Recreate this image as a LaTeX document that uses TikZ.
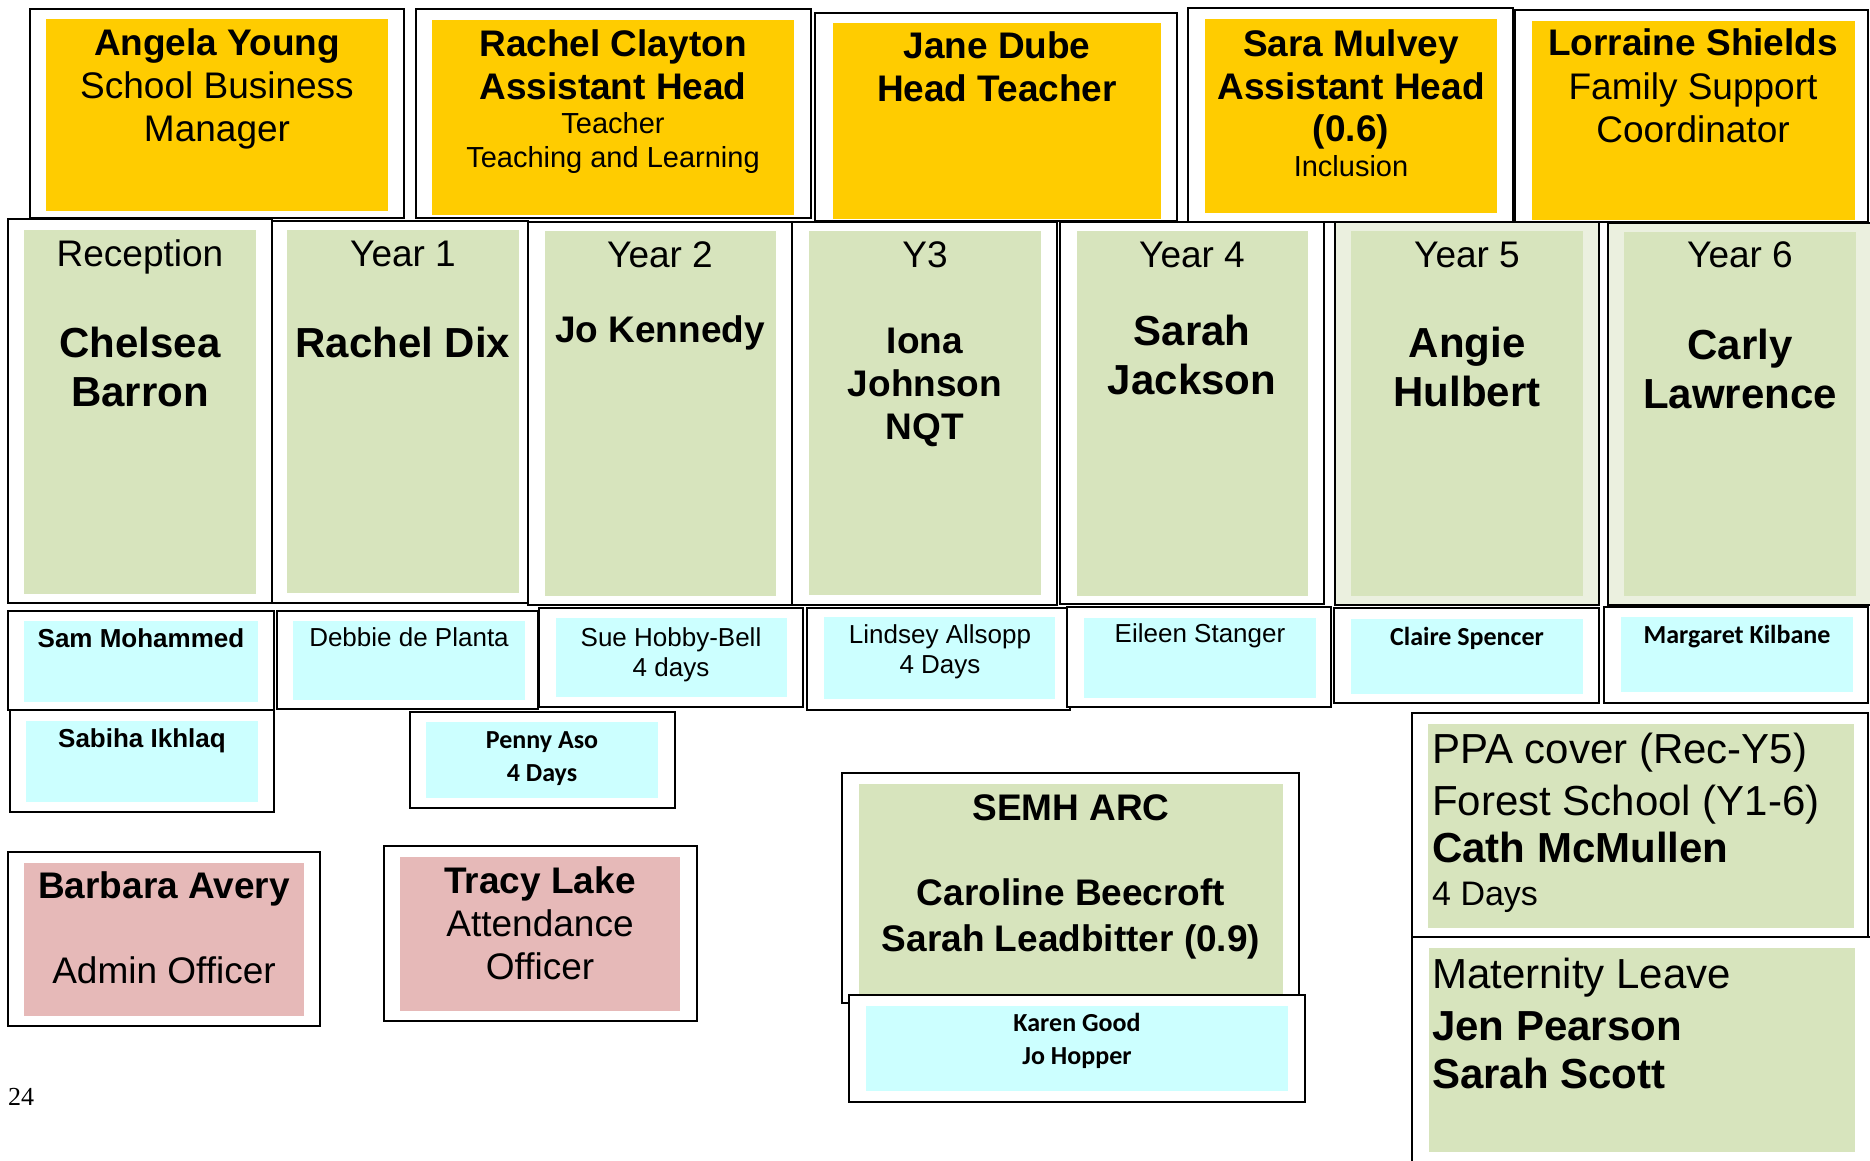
\documentclass[tikz,border=0pt]{standalone}
\usepackage{fontspec}
\setmainfont{Liberation Sans}
\newfontfamily\calibrif{Carlito}
\newfontfamily\timesf{Liberation Serif}
\definecolor{ylw}{HTML}{FFCC00}
\definecolor{grn}{HTML}{D7E4BD}
\definecolor{lgrn}{HTML}{EBF0DF}
\definecolor{cyn}{HTML}{CCFFFF}
\definecolor{pnk}{HTML}{E6B9B8}
\tikzset{
  outerbox/.style={draw=black, line width=2pt, fill=white},
  txt/.style={inner sep=0pt, anchor=base, text=black},
  ltxt/.style={inner sep=0pt, anchor=base west, text=black},
  nameB/.style={font=\fontsize{37}{43}\selectfont\bfseries},
  roleR/.style={font=\fontsize{37}{43}\selectfont},
  smallR/.style={font=\fontsize{29}{33}\selectfont},
  bigB/.style={font=\fontsize{42}{49}\selectfont\bfseries},
  bigR/.style={font=\fontsize{42}{49}\selectfont},
  midR/.style={font=\fontsize{34}{40}\selectfont},
  staffR/.style={font=\fontsize{26}{30}\selectfont},
  staffB/.style={font=\fontsize{26}{30}\selectfont\bfseries},
  calB/.style={font=\fontsize{26}{32}\selectfont\calibrif\bfseries},
}
\begin{document}
\begin{tikzpicture}[x=1pt,y=-1pt]
\useasboundingbox (0,0) rectangle (1870,1160);
\clip (0,0) rectangle (1870,1160);
% ---------- top row ----------
\draw[outerbox] (30,9) rectangle (404,218);
\fill[ylw] (46,19) rectangle (388,211);
\node[txt,nameB] (ay1) at (217,55) {Angela Young};
\node[txt,roleR] (ay2) at (217,98) {School Business};
\node[txt,roleR] (ay3) at (217,141) {Manager};

\draw[outerbox] (416,9) rectangle (811,218);
\fill[ylw] (432,20) rectangle (794,215);
\node[txt,nameB] (rc1) at (613,56) {Rachel Clayton};
\node[txt,nameB] (rc2) at (613,99) {Assistant Head};
\node[txt,smallR] (rc3) at (613,133) {Teacher};
\node[txt,smallR] (rc4) at (613,167) {Teaching and Learning};

\draw[outerbox] (815,13) rectangle (1177,221);
\fill[ylw] (833,23) rectangle (1161,219);
\node[txt,nameB] (jd1) at (997,58) {Jane Dube};
\node[txt,nameB] (jd2) at (997,101) {Head Teacher};

\draw[outerbox] (1188,8) rectangle (1513,222);
\fill[ylw] (1205,19) rectangle (1497,213);
\node[txt,nameB] (sm1) at (1351,56) {Sara Mulvey};
\node[txt,nameB] (sm2) at (1351,99) {Assistant Head};
\node[txt,nameB] (sm3) at (1351,141) {(0.6)};
\node[txt,smallR] (sm4) at (1351,176) {Inclusion};

\draw[outerbox] (1515,10) rectangle (1868,222);
\fill[ylw] (1532,21) rectangle (1855,220);
\node[txt,nameB] (ls1) at (1693,55) {Lorraine Shields};
\node[txt,roleR] (ls2) at (1693,99) {Family Support};
\node[txt,roleR] (ls3) at (1693,142) {Coordinator};

% ---------- year row ----------
\draw[outerbox] (8,219) rectangle (272,603);
\fill[grn] (24,230) rectangle (256,594);
\node[txt,roleR] (rec0) at (140,266) {Reception};
\node[txt,bigB] (rec1) at (140,357) {Chelsea};
\node[txt,bigB] (rec2) at (140,406) {Barron};

\draw[outerbox] (272,221) rectangle (528,603);
\fill[grn] (287,230) rectangle (519,593);
\node[txt,roleR] (y10) at (403,266) {Year 1};
\node[txt,bigB] (y11) at (403,357) {Rachel Dix};

\draw[outerbox] (528,222) rectangle (792,605);
\fill[grn] (545,231) rectangle (776,596);
\node[txt,roleR] (y20) at (660,267) {Year 2};
\node[txt,nameB] (y21) at (660,342) {Jo Kennedy};

\draw[outerbox] (792,222) rectangle (1057,605);
\fill[grn] (809,231) rectangle (1041,595);
\node[txt,roleR] (y30) at (925,267) {Y3};
\node[txt,nameB] (y31) at (925,353) {Iona};
\node[txt,nameB] (y32) at (925,396) {Johnson};
\node[txt,nameB] (y33) at (925,439) {NQT};

\draw[outerbox] (1060,222) rectangle (1324,604);
\fill[grn] (1077,231) rectangle (1308,596);
\node[txt,roleR] (y40) at (1192,267) {Year 4};
\node[txt,bigB] (y41) at (1192,345) {Sarah};
\node[txt,bigB] (y42) at (1192,394) {Jackson};

\draw[outerbox,fill=lgrn] (1335,222) rectangle (1599,605);
\fill[grn] (1351,231) rectangle (1583,596);
\node[txt,roleR] (y50) at (1467,267) {Year 5};
\node[txt,bigB] (y51) at (1467,357) {Angie};
\node[txt,bigB] (y52) at (1467,406) {Hulbert};

\draw[outerbox,fill=lgrn] (1608,223) rectangle (1880,605);
\fill[grn] (1624,232) rectangle (1856,596);
\node[txt,roleR] (y60) at (1740,267) {Year 6};
\node[txt,bigB] (y61) at (1740,359) {Carly};
\node[txt,bigB] (y62) at (1740,408) {Lawrence};

% ---------- support staff ----------
\draw[outerbox] (8,611) rectangle (274,710);
\fill[cyn] (24,621) rectangle (258,702);
\node[txt,staffB] (sam) at (141,647) {Sam Mohammed};

\draw[outerbox] (277,611) rectangle (538,709);
\fill[cyn] (293,621) rectangle (525,700);
\node[txt,staffR] (deb) at (409,646) {Debbie de Planta};

\draw[outerbox] (539,608) rectangle (803,707);
\fill[cyn] (556,618) rectangle (787,697);
\node[txt,staffR] (sue1) at (671,646) {Sue Hobby-Bell};
\node[txt,staffR] (sue2) at (671,676) {4 days};

\draw[outerbox] (807,608) rectangle (1070,710);
\fill[cyn] (824,617) rectangle (1055,699);
\node[txt,staffR] (lin1) at (940,643) {Lindsey Allsopp};
\node[txt,staffR] (lin2) at (940,673) {4 Days};

\draw[outerbox] (1067,607) rectangle (1331,707);
\fill[cyn] (1084,618) rectangle (1316,698);
\node[txt,staffR] (eil) at (1200,642) {Eileen Stanger};

\draw[outerbox] (1334,608) rectangle (1599,703);
\fill[cyn] (1351,619) rectangle (1583,694);
\node[txt,calB] (cla) at (1467,645) {Claire Spencer};

\draw[outerbox] (1604,607) rectangle (1868,703);
\fill[cyn] (1621,617) rectangle (1853,692);
\node[txt,calB] (mar) at (1737,643) {Margaret Kilbane};

\draw[outerbox] (10,710) rectangle (274,812);
\fill[cyn] (26,721) rectangle (258,802);
\node[txt,staffB] (sab) at (142,747) {Sabiha Ikhlaq};

\draw[outerbox] (410,712) rectangle (675,808);
\fill[cyn] (426,722) rectangle (658,798);
\node[txt,calB] (pen1) at (542,748) {Penny Aso};
\node[txt,calB] (pen2) at (542,781) {4 Days};

% ---------- admin ----------
\draw[outerbox] (8,852) rectangle (320,1026);
\fill[pnk] (24,863) rectangle (304,1016);
\node[txt,nameB] (ba1) at (164,898) {Barbara Avery};
\node[txt,roleR] (ba2) at (164,983) {Admin Officer};

\draw[outerbox] (384,846) rectangle (697,1021);
\fill[pnk] (400,857) rectangle (680,1011);
\node[txt,nameB] (tl1) at (540,893) {Tracy Lake};
\node[txt,roleR] (tl2) at (540,936) {Attendance};
\node[txt,roleR] (tl3) at (540,979) {Officer};

% ---------- SEMH ARC ----------
\draw[outerbox] (842,773) rectangle (1299,1003);
\fill[grn] (859,784) rectangle (1283,1000);
\node[txt,nameB] (se1) at (1071,820) {SEMH ARC};
\node[txt,nameB] (se2) at (1071,905) {Caroline Beecroft};
\node[txt,nameB] (se3) at (1071,951) {Sarah Leadbitter (0.9)};

\draw[outerbox] (849,995) rectangle (1305,1102);
\fill[cyn] (866,1006) rectangle (1288,1091);
\node[txt,calB] (kg1) at (1077,1031) {Karen Good};
\node[txt,calB] (kg2) at (1077,1064) {Jo Hopper};

% ---------- PPA and maternity ----------
\draw[outerbox] (1412,713) rectangle (1868,937);
\fill[grn] (1428,724) rectangle (1854,928);
\node[ltxt,bigR] (ppa1) at (1432,763) {PPA cover (Rec-Y5)};
\node[ltxt,bigR] (ppa2) at (1432,815) {Forest School (Y1-6)};
\node[ltxt,bigB] (ppa3) at (1432,862) {Cath McMullen};
\node[ltxt,midR] (ppa4) at (1432,905) {4 Days};

\draw[outerbox] (1412,937) rectangle (1880,1200);
\fill[grn] (1429,948) rectangle (1855,1152);
\node[ltxt,bigR] (mat1) at (1432,988) {Maternity Leave};
\node[ltxt,bigB] (mat2) at (1432,1040) {Jen Pearson};
\node[ltxt,bigB] (mat3) at (1432,1088) {Sarah Scott};

% ---------- page number ----------
\node[ltxt,font=\fontsize{26}{30}\selectfont\timesf] (pg) at (8,1105) {24};
\end{tikzpicture}
\end{document}
